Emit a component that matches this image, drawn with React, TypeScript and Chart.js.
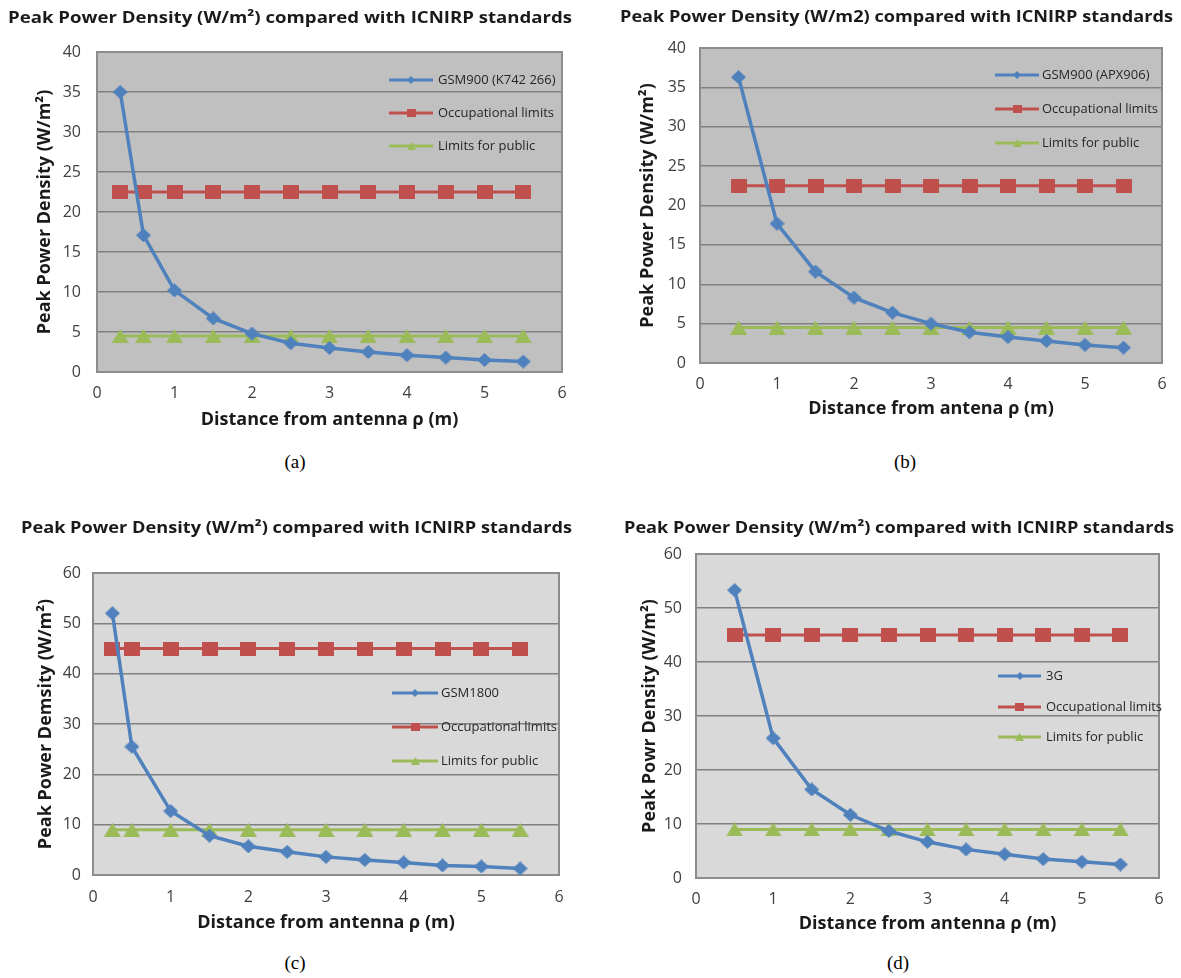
import React, { useEffect, useRef } from "react";
import { Chart, registerables } from "chart.js";
Chart.register(...registerables);

const BLUE = "#4F81BD";
const RED = "#C0504D";
const GREEN = "#9BBB59";

// ---- Panel (a) data ----
const distA = [0.3, 0.6, 1, 1.5, 2, 2.5, 3, 3.5, 4, 4.5, 5, 5.5];
const gsm900K742 = [35.0, 17.1, 10.2, 6.7, 4.8, 3.6, 3.0, 2.5, 2.1, 1.8, 1.5, 1.3];
const occA = [22.5, 22.5, 22.5, 22.5, 22.5, 22.5, 22.5, 22.5, 22.5, 22.5, 22.5, 22.5];
const pubA = [4.5, 4.5, 4.5, 4.5, 4.5, 4.5, 4.5, 4.5, 4.5, 4.5, 4.5, 4.5];

// ---- Panel (b) data ----
const distB = [0.5, 1, 1.5, 2, 2.5, 3, 3.5, 4, 4.5, 5, 5.5];
const gsm900APX = [36.3, 17.7, 11.6, 8.3, 6.4, 5.0, 3.9, 3.3, 2.8, 2.3, 1.95];
const occB = [22.5, 22.5, 22.5, 22.5, 22.5, 22.5, 22.5, 22.5, 22.5, 22.5, 22.5];
const pubB = [4.5, 4.5, 4.5, 4.5, 4.5, 4.5, 4.5, 4.5, 4.5, 4.5, 4.5];

// ---- Panel (c) data ----
const distC = [0.25, 0.5, 1, 1.5, 2, 2.5, 3, 3.5, 4, 4.5, 5, 5.5];
const gsm1800 = [52.0, 25.5, 12.7, 7.8, 5.7, 4.6, 3.6, 3.0, 2.5, 1.9, 1.7, 1.3];
const occC = [45, 45, 45, 45, 45, 45, 45, 45, 45, 45, 45, 45];
const pubC = [9, 9, 9, 9, 9, 9, 9, 9, 9, 9, 9, 9];

// ---- Panel (d) data ----
const distD = [0.5, 1, 1.5, 2, 2.5, 3, 3.5, 4, 4.5, 5, 5.5];
const g3 = [53.3, 25.9, 16.4, 11.7, 8.7, 6.7, 5.3, 4.4, 3.5, 3.0, 2.5];
const occD = [45, 45, 45, 45, 45, 45, 45, 45, 45, 45, 45];
const pubD = [9, 9, 9, 9, 9, 9, 9, 9, 9, 9, 9];

const seriesNamesA = ["GSM900 (K742 266)", "Occupational limits", "Limits for public"];
const seriesNamesB = ["GSM900 (APX906)", "Occupational limits", "Limits for public"];
const seriesNamesC = ["GSM1800", "Occupational limits", "Limits for public"];
const seriesNamesD = ["3G", "Occupational limits", "Limits for public"];

const FONT = "'Open Sans', 'DejaVu Sans', sans-serif";

function markerCanvas(shape: string, w: number, h: number, color: string) {
  const c = document.createElement("canvas");
  c.width = w;
  c.height = h;
  const ctx = c.getContext("2d")!;
  ctx.fillStyle = color;
  ctx.beginPath();
  if (shape === "diamond") {
    ctx.moveTo(w / 2, 0);
    ctx.lineTo(w, h / 2);
    ctx.lineTo(w / 2, h);
    ctx.lineTo(0, h / 2);
  } else if (shape === "square") {
    ctx.rect(0, 0, w, h);
  } else {
    ctx.moveTo(w / 2, 0);
    ctx.lineTo(w, h);
    ctx.lineTo(0, h);
  }
  ctx.closePath();
  ctx.fill();
  return c;
}

type Panel = {
  left: number; top: number; w: number; h: number;
  plot: { l: number; t: number; r: number; b: number };
  yMax: number; yStep: number; bg: string;
  title: string; titleX0: number; titleX1: number; titleY: number;
  yTitle: string; yTitleX: number; xTitle: string; xTitleFromBottom: number;
  yTickGap: number; xTickGap: number;
  legend: { x0: number; x1: number; tx: number; ys: number[] };
  names: string[];
  dist: number[]; main: number[]; occ: number[]; pub: number[];
};

const panels: Panel[] = [
  {
    left: 0, top: 0, w: 590, h: 450,
    plot: { l: 97, t: 52, r: 562, b: 372 },
    yMax: 40, yStep: 5, bg: "#C0C0C0",
    title: "Peak Power Density (W/m²) compared with ICNIRP standards", titleX0: 8, titleX1: 572, titleY: 18,
    yTitle: "Peak Power Density (W/m²)", yTitleX: 45,
    xTitle: "Distance from antenna ρ (m)", xTitleFromBottom: 30,
    yTickGap: 16, xTickGap: 12,
    legend: { x0: 389, x1: 433, tx: 438, ys: [80, 113, 146] },
    names: seriesNamesA, dist: distA, main: gsm900K742, occ: occA, pub: pubA,
  },
  {
    left: 590, top: 0, w: 591, h: 450,
    plot: { l: 110, t: 48, r: 572, b: 363 },
    yMax: 40, yStep: 5, bg: "#C0C0C0",
    title: "Peak Power Density (W/m2) compared with ICNIRP standards", titleX0: 30, titleX1: 583, titleY: 17,
    yTitle: "Peak Power Density (W/m²)", yTitleX: 58,
    xTitle: "Distance from antena ρ (m)", xTitleFromBottom: 41,
    yTickGap: 14, xTickGap: 12,
    legend: { x0: 405, x1: 449, tx: 452, ys: [75, 109, 143] },
    names: seriesNamesB, dist: distB, main: gsm900APX, occ: occB, pub: pubB,
  },
  {
    left: 0, top: 500, w: 590, h: 450,
    plot: { l: 93, t: 73, r: 559, b: 375 },
    yMax: 60, yStep: 10, bg: "#D9D9D9",
    title: "Peak Power Density (W/m²) compared with ICNIRP standards", titleX0: 21, titleX1: 572, titleY: 28,
    yTitle: "Peak Power Demsity (W/m²)", yTitleX: 46,
    xTitle: "Distance from antenna ρ (m)", xTitleFromBottom: 27,
    yTickGap: 12, xTickGap: 13,
    legend: { x0: 392, x1: 438, tx: 441, ys: [193, 227, 261] },
    names: seriesNamesC, dist: distC, main: gsm1800, occ: occC, pub: pubC,
  },
  {
    left: 590, top: 500, w: 591, h: 450,
    plot: { l: 106, t: 54, r: 569, b: 378 },
    yMax: 60, yStep: 10, bg: "#D9D9D9",
    title: "Peak Power Density (W/m²) compared with ICNIRP standards", titleX0: 34, titleX1: 584, titleY: 28,
    yTitle: "Peak Powr Density (W/m²)", yTitleX: 60,
    xTitle: "Distance from antenna ρ (m)", xTitleFromBottom: 26,
    yTickGap: 14, xTickGap: 12,
    legend: { x0: 408, x1: 451, tx: 456, ys: [176, 207, 237] },
    names: seriesNamesD, dist: distD, main: g3, occ: occD, pub: pubD,
  },
];

const captions = [
  { text: "(a)", x: 295, y: 462 },
  { text: "(b)", x: 905, y: 462 },
  { text: "(c)", x: 295, y: 963 },
  { text: "(d)", x: 898, y: 963 },
];

function ChartPanel({ p }: { p: Panel }) {
  const ref = useRef<HTMLCanvasElement>(null);
  useEffect(() => {
    const canvas = ref.current!;
    const mk = {
      diamond: markerCanvas("diamond", 15, 14, BLUE),
      square: markerCanvas("square", 16, 14, RED),
      triangle: markerCanvas("triangle", 17, 14, GREEN),
    };
    const small = {
      diamond: markerCanvas("diamond", 8, 8, BLUE),
      square: markerCanvas("square", 9, 8, RED),
      triangle: markerCanvas("triangle", 9, 8, GREEN),
    };
    const toPts = (xs: number[], ys: number[]) => xs.map((x, i) => ({ x, y: ys[i] }));

    const decor = {
      id: "decor" + p.left + "_" + p.top,
      beforeDraw(chart: any) {
        const { ctx, chartArea: a } = chart;
        ctx.save();
        ctx.fillStyle = p.bg;
        ctx.fillRect(a.left, a.top, a.right - a.left, a.bottom - a.top);
        ctx.restore();
      },
      beforeDatasetsDraw(chart: any) {
        const { ctx, chartArea: a } = chart;
        ctx.save();
        ctx.strokeStyle = "#8c8c8c";
        ctx.lineWidth = 2;
        ctx.strokeRect(a.left, a.top, a.right - a.left, a.bottom - a.top);
        ctx.restore();
      },
      afterDraw(chart: any) {
        const { ctx } = chart;
        ctx.save();
        // Title
        ctx.font = `bold 16px ${FONT}`;
        ctx.fillStyle = "#1a1a1a";
        ctx.textBaseline = "middle";
        ctx.textAlign = "left";
        const mw = ctx.measureText(p.title).width;
        const sx = (p.titleX1 - p.titleX0) / mw;
        ctx.translate(p.titleX0, p.titleY);
        ctx.scale(sx, 1);
        ctx.fillText(p.title, 0, 0);
        ctx.restore();

        // Legend
        ctx.save();
        const cols = [BLUE, RED, GREEN];
        const sm = [small.diamond, small.square, small.triangle];
        const L = p.legend;
        for (let i = 0; i < 3; i++) {
          const y = L.ys[i];
          ctx.strokeStyle = cols[i];
          ctx.lineWidth = 3;
          ctx.beginPath();
          ctx.moveTo(L.x0, y);
          ctx.lineTo(L.x1, y);
          ctx.stroke();
          const img = sm[i];
          ctx.drawImage(img, Math.round((L.x0 + L.x1) / 2 - img.width / 2), Math.round(y - img.height / 2));
          ctx.font = `13px ${FONT}`;
          ctx.fillStyle = "#262626";
          ctx.textBaseline = "middle";
          ctx.textAlign = "left";
          ctx.fillText(p.names[i], L.tx, y);
        }
        ctx.restore();
      },
    };

    const chart = new Chart(canvas, {
      type: "scatter",
      data: {
        datasets: [
          {
            label: p.names[0],
            data: toPts(p.dist, p.main),
            showLine: true,
            borderColor: BLUE,
            backgroundColor: BLUE,
            borderWidth: 3.5,
            pointStyle: mk.diamond as any,
            pointRadius: 7,
            order: 0,
          },
          {
            label: p.names[1],
            data: toPts(p.dist, p.occ),
            showLine: true,
            borderColor: RED,
            backgroundColor: RED,
            borderWidth: 3,
            pointStyle: mk.square as any,
            pointRadius: 7,
            order: 2,
          },
          {
            label: p.names[2],
            data: toPts(p.dist, p.pub),
            showLine: true,
            borderColor: GREEN,
            backgroundColor: GREEN,
            borderWidth: 3,
            pointStyle: mk.triangle as any,
            pointRadius: 7,
            order: 1,
          },
        ],
      },
      options: {
        responsive: false,
        animation: false,
        events: [],
        layout: {
          padding: { left: 0, top: p.plot.t, right: p.w - p.plot.r, bottom: 0 },
        },
        plugins: {
          legend: { display: false },
          tooltip: { enabled: false },
          title: { display: false },
        },
        scales: {
          x: {
            type: "linear",
            min: 0,
            max: 6,
            ticks: {
              stepSize: 1,
              padding: p.xTickGap,
              color: "#404040",
              font: { family: FONT, size: 16 },
              maxRotation: 0,
            },
            grid: { display: false, drawTicks: false },
            border: { display: false },
            title: {
              display: true,
              text: p.xTitle,
              color: "#1a1a1a",
              font: { family: FONT, size: 18, weight: "bold", lineHeight: 1.2 },
              padding: { top: 0, bottom: p.xTitleFromBottom - 11 },
            },
            afterFit(scale: any) {
              scale.height = p.h - p.plot.b;
            },
          },
          y: {
            type: "linear",
            min: 0,
            max: p.yMax,
            ticks: {
              stepSize: p.yStep,
              padding: p.yTickGap,
              color: "#404040",
              font: { family: FONT, size: 16 },
            },
            grid: { color: "#808080", lineWidth: 1.5, drawTicks: false },
            border: { display: false },
            title: {
              display: true,
              text: p.yTitle,
              color: "#1a1a1a",
              font: { family: FONT, size: 18, weight: "bold", lineHeight: 1.2 },
              padding: { top: p.yTitleX - 11, bottom: 0 },
            },
            afterFit(scale: any) {
              scale.width = p.plot.l;
            },
          },
        },
      } as any,
      plugins: [decor],
    });
    return () => chart.destroy();
  }, [p]);

  return (
    <canvas
      ref={ref}
      width={p.w}
      height={p.h}
      style={{ position: "absolute", left: p.left, top: p.top, width: p.w, height: p.h }}
    />
  );
}

export default function App() {
  return (
    <div style={{ position: "absolute", left: 0, top: 0, width: 1181, height: 978, background: "#fff" }}>
      {panels.map((p, i) => (
        <ChartPanel key={i} p={p} />
      ))}
      {captions.map((c, i) => (
        <div
          key={"c" + i}
          style={{
            position: "absolute",
            left: c.x - 30,
            top: c.y - 12,
            width: 60,
            height: 24,
            lineHeight: "24px",
            textAlign: "center",
            fontFamily: "'Liberation Serif', 'Times New Roman', serif",
            fontSize: 19,
            color: "#000",
          }}
        >
          {c.text}
        </div>
      ))}
    </div>
  );
}
